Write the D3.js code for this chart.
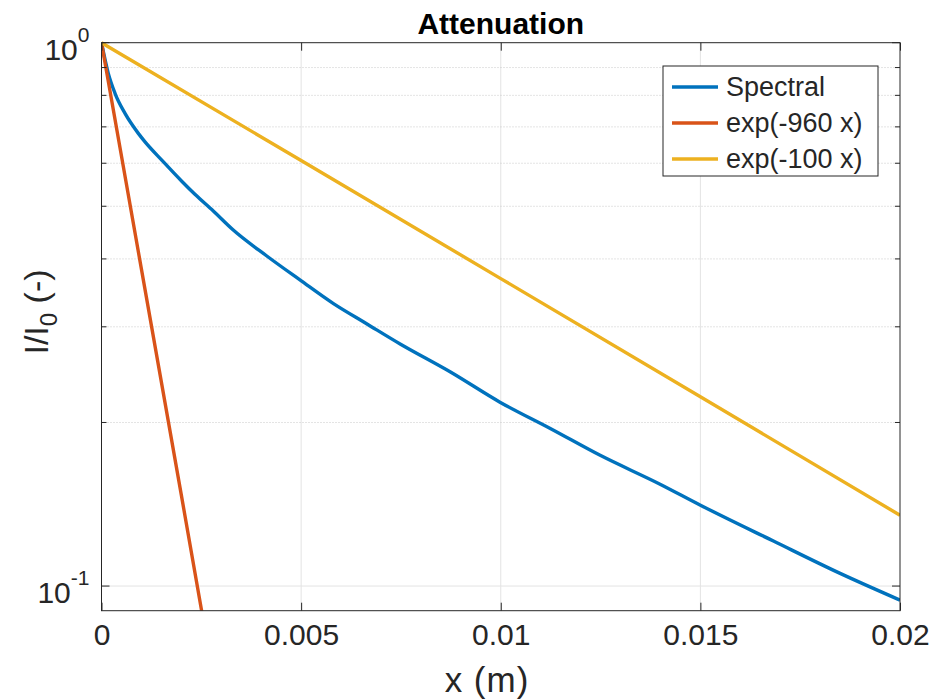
<!DOCTYPE html>
<html><head><meta charset="utf-8">
<script src="https://cdn.jsdelivr.net/npm/d3@7"></script>
<style>
body{margin:0;background:#fff;}
text{font-family:"Liberation Sans",Arial,Helvetica,sans-serif;fill:#262626;}
</style></head>
<body><svg id="chart" width="944" height="700"></svg>
<script>
// ---- data ----
const specX = [0, 0.00017, 0.000338, 0.000589, 0.000922, 0.00109, 0.00151, 0.00201, 0.00234, 0.0028, 0.0033, 0.00414, 0.00497, 0.00581, 0.00664, 0.00748, 0.00873, 0.00998, 0.01124, 0.01249, 0.01399, 0.01499, 0.01683, 0.0185, 0.02];
const specY = [1, 0.878, 0.807, 0.741, 0.681, 0.657, 0.608, 0.556, 0.526, 0.490, 0.452, 0.405, 0.366, 0.331, 0.304, 0.279, 0.248, 0.218, 0.195, 0.174, 0.154, 0.141, 0.121, 0.1055, 0.0942];
const exp960X = [0, 0.001, 0.002, 0.0025, 0.003];
const exp960Y = [1, 0.383, 0.147, 0.0907, 0.0561];
const exp100X = [0, 0.005, 0.01, 0.015, 0.02];
const exp100Y = [1, 0.607, 0.368, 0.223, 0.135];
const xTicks = [0, 0.005, 0.01, 0.015, 0.02];
const xTickLabels = ["0", "0.005", "0.01", "0.015", "0.02"];
const yMajor = [0.1, 1];
const yMajorExp = ["-1", "0"];
const yMinor = [0.2, 0.3, 0.4, 0.5, 0.6, 0.7, 0.8, 0.9];
const seriesNames = ["Spectral", "exp(-960 x)", "exp(-100 x)"];
const seriesColors = ["#0072BD", "#D95319", "#EDB120"];

// ---- layout ----
const L = 101.5, R = 900, T = 42.7, B = 610.7;
const svg = d3.select("#chart");
const x = d3.scaleLinear().domain([0, 0.02]).range([L, R]);
const y = d3.scaleLog().domain([0.09008, 1]).range([B, T]);
const axisCol = "#262626";

// grid
const g = svg.append("g");
g.selectAll(".vg").data(xTicks.slice(1, -1)).enter().append("line")
  .attr("x1", d => x(d)).attr("x2", d => x(d)).attr("y1", T).attr("y2", B)
  .attr("stroke", "#e3e3e3").attr("stroke-width", 1);
g.selectAll(".hg").data(yMajor.slice(0, 1)).enter().append("line")
  .attr("x1", L).attr("x2", R).attr("y1", d => y(d)).attr("y2", d => y(d))
  .attr("stroke", "#e3e3e3").attr("stroke-width", 1);
g.selectAll(".mg").data(yMinor).enter().append("line")
  .attr("x1", L).attr("x2", R).attr("y1", d => y(d)).attr("y2", d => y(d))
  .attr("stroke", "#c8c8c8").attr("stroke-width", 1).attr("stroke-dasharray", "1,2");

// clip
svg.append("clipPath").attr("id", "clip").append("rect")
  .attr("x", L).attr("y", T - 2).attr("width", R - L).attr("height", B - T + 2);

const smooth = d3.line().x(d => x(d[0])).y(d => y(d[1])).curve(d3.curveMonotoneX);
const straight = d3.line().x(d => x(d[0])).y(d => y(d[1]));
const series = [
  d3.zip(specX, specY),
  d3.zip(exp960X, exp960Y),
  d3.zip(exp100X, exp100Y)
];
const lg = svg.append("g").attr("clip-path", "url(#clip)");
series.forEach((s, i) => {
  lg.append("path").datum(s).attr("d", i === 0 ? smooth : straight).attr("fill", "none")
    .attr("stroke", seriesColors[i]).attr("stroke-width", 3.4)
    .attr("stroke-linejoin", "round");
});

// axes box
const ax = svg.append("g");
ax.append("rect").attr("x", L).attr("y", T).attr("width", R - L).attr("height", B - T)
  .attr("fill", "none").attr("stroke", axisCol).attr("stroke-width", 1);

// x ticks (inward, bottom and top)
const xAxisB = d3.axisBottom(x).tickValues(xTicks).tickSize(-8).tickFormat((d, i) => xTickLabels[i]).tickPadding(14);
const gxb = svg.append("g").attr("transform", `translate(0,${B})`).call(xAxisB);
gxb.select(".domain").remove();
gxb.selectAll("line").attr("stroke", axisCol);
gxb.selectAll("text").attr("font-size", 30).style("fill", axisCol).attr("dy", "0.69em");
const gxt = svg.append("g").attr("transform", `translate(0,${T})`)
  .call(d3.axisTop(x).tickValues(xTicks).tickSize(-8).tickFormat(""));
gxt.select(".domain").remove();
gxt.selectAll("line").attr("stroke", axisCol);

// y ticks major & minor, left and right
[[L, 1], [R, -1]].forEach(([px, dir]) => {
  svg.append("g").selectAll("line").data(yMajor).enter().append("line")
    .attr("x1", px).attr("x2", px + dir * 8).attr("y1", d => y(d)).attr("y2", d => y(d))
    .attr("stroke", axisCol);
  svg.append("g").selectAll("line").data(yMinor).enter().append("line")
    .attr("x1", px).attr("x2", px + dir * 5).attr("y1", d => y(d)).attr("y2", d => y(d))
    .attr("stroke", axisCol);
});
// y tick labels 10^n
const ytl = svg.append("g").selectAll("text").data(yMajor).enter().append("text")
  .attr("x", L - 12).attr("y", d => y(d) + 17).attr("text-anchor", "end").attr("font-size", 30);
ytl.append("tspan").text("10");
ytl.append("tspan").attr("dy", -18).attr("font-size", 21).text((d, i) => yMajorExp[i]);

// labels
svg.append("text").attr("x", 487).attr("y", 692).attr("text-anchor", "middle")
  .attr("font-size", 35).attr("letter-spacing", 1).text("x (m)");
const yl = svg.append("text").attr("transform", `translate(48,312) rotate(-90)`)
  .attr("text-anchor", "middle").attr("font-size", 34);
yl.append("tspan").text("I/I");
yl.append("tspan").attr("font-size", 24).attr("dy", 9).text("0");
yl.append("tspan").attr("dy", -9).text(" (-)");
svg.append("text").attr("x", (L + R) / 2).attr("y", 34).attr("text-anchor", "middle")
  .attr("font-size", 30).attr("font-weight", "bold").style("fill", "#000").text("Attenuation");

// legend
const lgx = 663, lgy = 66, lgw = 215, lgh = 110;
const leg = svg.append("g");
leg.append("rect").attr("x", lgx).attr("y", lgy).attr("width", lgw).attr("height", lgh)
  .attr("fill", "#fff").attr("stroke", axisCol).attr("stroke-width", 1);
seriesNames.forEach((n, i) => {
  const cy = lgy + 21 + i * 36;
  leg.append("line").attr("x1", lgx + 9).attr("x2", lgx + 55).attr("y1", cy).attr("y2", cy)
    .attr("stroke", seriesColors[i]).attr("stroke-width", 3.4);
  leg.append("text").attr("x", lgx + 63).attr("y", cy + 9).attr("font-size", 27).text(n);
});
</script></body></html>
